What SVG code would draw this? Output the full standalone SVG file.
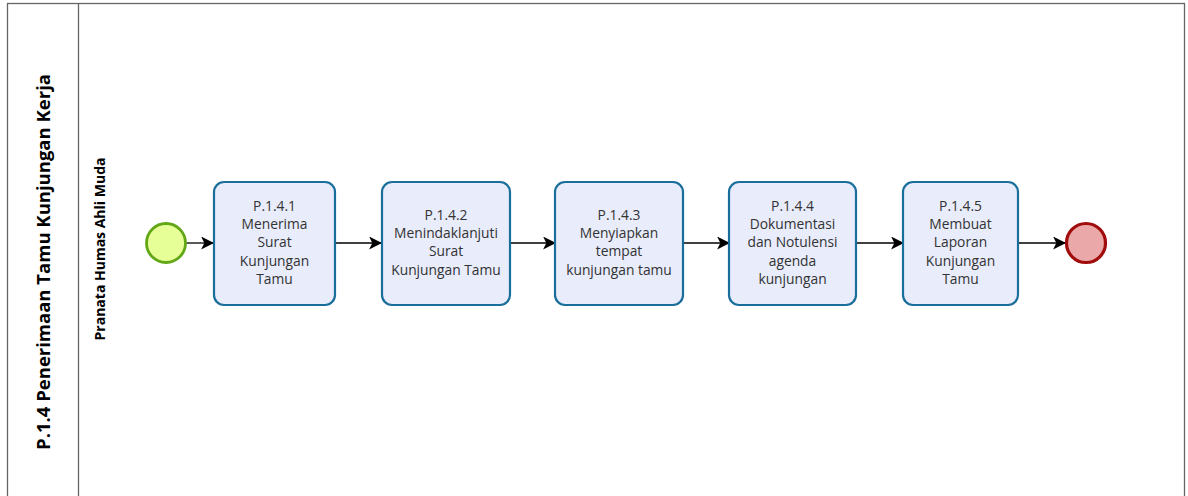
<svg xmlns="http://www.w3.org/2000/svg" width="1188" height="496" viewBox="0 0 1188 496">
<defs>
<style>
.pool{fill:#fff;stroke:#666;stroke-width:1.3}
.task{fill:#e8ecfb;stroke:#1a6e9c;stroke-width:2.2}
.t{font-family:"Open Sans",sans-serif;font-size:13.8px;fill:#333;text-anchor:middle}
.lbl{font-family:"Open Sans",sans-serif;font-weight:bold;fill:#000;text-anchor:middle}
.flow{fill:none;stroke:#000;stroke-width:1.3;marker-end:url(#arr)}
</style>
<marker id="arr" viewBox="0 0 12 12" refX="11" refY="6" markerWidth="13" markerHeight="13" markerUnits="userSpaceOnUse" orient="auto">
<path d="M0,0 L12,6 L0,12 L3,6 Z" fill="#000"/>
</marker>
</defs>
<rect width="1188" height="496" fill="#fff"/>
<g id="pool">
<rect class="pool" x="7.5" y="3.5" width="1177" height="495"/>
<line x1="78.5" y1="3.5" x2="78.5" y2="496" stroke="#666" stroke-width="1.3"/>
<text class="lbl" font-size="18.5" transform="translate(50,262) rotate(-90)">P.1.4 Penerimaan Tamu Kunjungan Kerja</text>
<text class="lbl" font-size="14" transform="translate(105,249) rotate(-90)">Pranata Humas Ahli Muda</text>
</g>
<g id="connectors">
<line class="flow" x1="186" y1="243" x2="213" y2="243"/>
<line class="flow" x1="335" y1="243" x2="381" y2="243"/>
<line class="flow" x1="510" y1="243" x2="555" y2="243"/>
<line class="flow" x1="683" y1="243" x2="729" y2="243"/>
<line class="flow" x1="856" y1="243" x2="903" y2="243"/>
<line class="flow" x1="1018" y1="243" x2="1065" y2="243"/>
</g>
<g id="start">
<circle cx="166" cy="243" r="19.5" fill="#e6ff97" stroke="#62a716" stroke-width="2.8"/>
</g>
<g id="task1">
<rect class="task" x="214" y="182" width="121" height="123" rx="10"/>
<text class="t"><tspan x="274.5" y="211">P.1.4.1</tspan><tspan x="274.5" y="229">Menerima</tspan><tspan x="274.5" y="247">Surat</tspan><tspan x="274.5" y="266">Kunjungan</tspan><tspan x="274.5" y="284">Tamu</tspan></text>
</g>
<g id="task2">
<rect class="task" x="382" y="182" width="128" height="123" rx="10"/>
<text class="t"><tspan x="446" y="220">P.1.4.2</tspan><tspan x="446" y="238">Menindaklanjuti</tspan><tspan x="446" y="256">Surat</tspan><tspan x="446" y="275">Kunjungan Tamu</tspan></text>
</g>
<g id="task3">
<rect class="task" x="555" y="182" width="128" height="123" rx="10"/>
<text class="t"><tspan x="619" y="220">P.1.4.3</tspan><tspan x="619" y="238">Menyiapkan</tspan><tspan x="619" y="256">tempat</tspan><tspan x="619" y="275">kunjungan tamu</tspan></text>
</g>
<g id="task4">
<rect class="task" x="729" y="182" width="127" height="123" rx="10"/>
<text class="t"><tspan x="792.5" y="211">P.1.4.4</tspan><tspan x="792.5" y="229">Dokumentasi</tspan><tspan x="792.5" y="247">dan Notulensi</tspan><tspan x="792.5" y="266">agenda</tspan><tspan x="792.5" y="284">kunjungan</tspan></text>
</g>
<g id="task5">
<rect class="task" x="903" y="182" width="115" height="123" rx="10"/>
<text class="t"><tspan x="960.5" y="211">P.1.4.5</tspan><tspan x="960.5" y="229">Membuat</tspan><tspan x="960.5" y="247">Laporan</tspan><tspan x="960.5" y="266">Kunjungan</tspan><tspan x="960.5" y="284">Tamu</tspan></text>
</g>
<g id="end">
<circle cx="1086" cy="243" r="19.5" fill="#eba8a8" stroke="#a10d0d" stroke-width="3.2"/>
</g>
</svg>
